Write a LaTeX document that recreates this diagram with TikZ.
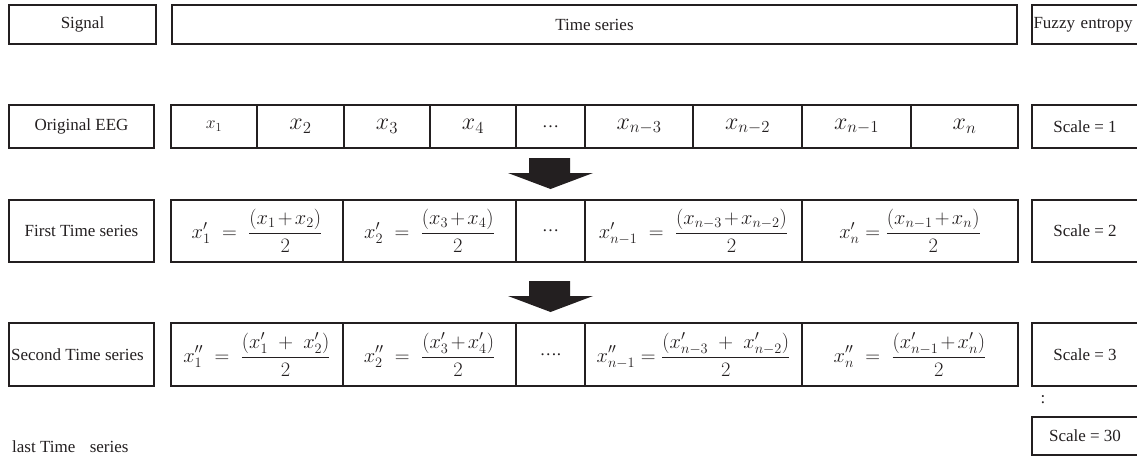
\documentclass[tikz,border=0pt]{standalone}
\usepackage{fix-cm}
\usepackage{fontspec}
\setmainfont{Liberation Serif}
\definecolor{ink}{HTML}{231F20}
\tikzset{
  box/.style={draw=ink, line width=1.6pt, inner sep=0pt, outer sep=0pt,
    text=ink, font=\fontsize{17}{19}\selectfont},
  bigm/.style={font=\fontsize{24}{26}\selectfont},
  frm/.style={font=\fontsize{20.5}{22}\selectfont},
  plain/.style={inner sep=0pt, text=ink, font=\fontsize{17}{19}\selectfont},
  blockarrow/.style={fill=ink, draw=none},
}
\newcommand{\tightplus}{\mkern2mu{+}\mkern2mu}
\begin{document}
\begin{tikzpicture}[x=1pt,y=-1pt]
\useasboundingbox (0,0) rectangle (1137,466);
% header
\node[box, minimum width=147, minimum height=39] (sig) at (82.5,24.5) {Signal};
\node[box, minimum width=845, minimum height=39] (ts) at (594.5,24.5) {Time series};
\node[box, minimum width=106, minimum height=39, anchor=west, text width=104, align=left] (fe) at (1032,24.5) {\hspace*{0.5pt}Fuzzy entropy};
% row 1
\node[box, minimum width=145, minimum height=43] (l1) at (81.5,126.5) {Original EEG};
\node[box, minimum width=86, minimum height=43] (a1) at (214,126.5) {\fontsize{17.5}{18}\selectfont$x_1$};
\node[box, bigm, minimum width=87, minimum height=43] (a2) at (300.5,126.5) {$x_2$};
\node[box, bigm, minimum width=86, minimum height=43] (a3) at (387,126.5) {$x_3$};
\node[box, bigm, minimum width=86, minimum height=43] (a4) at (473,126.5) {$x_4$};
\node[box, minimum width=69, minimum height=43] (a5) at (550.5,126.5) {…};
\node[box, bigm, minimum width=108, minimum height=43] (a6) at (639,126.5) {$x_{n-3}$};
\node[box, bigm, minimum width=109, minimum height=43] (a7) at (747.5,126.5) {$x_{n-2}$};
\node[box, bigm, minimum width=109, minimum height=43] (a8) at (856.5,126.5) {$x_{n-1}$};
\node[box, bigm, minimum width=107, minimum height=43] (a9) at (964.5,126.5) {$x_{n}$};
\node[box, minimum width=106, minimum height=43, anchor=west] (s1) at (1032,126.5) {Scale = 1};
% arrow 1
\fill[blockarrow] (529,158) -- (570,158) -- (570,173) -- (593,173) -- (550.5,189)
  -- (508,173) -- (529,173) -- cycle;
% row 2
\node[box, minimum width=145, minimum height=62] (l2) at (81.5,231) {First Time series};
\node[box, frm, minimum width=172, minimum height=62] (b1) at (257,231)
  {$\displaystyle x'_1 \;=\; \frac{(x_1\tightplus x_2)}{2}$};
\node[box, frm, minimum width=173, minimum height=62] (b2) at (429.5,231)
  {$\displaystyle x'_2 \;=\; \frac{(x_3\tightplus x_4)}{2}$};
\node[box, minimum width=69, minimum height=62] (b3) at (550.5,231) {…};
\node[box, frm, minimum width=217, minimum height=62] (b4) at (693.5,231)
  {$\displaystyle x'_{n-1} \;=\; \frac{(x_{n-3}\tightplus x_{n-2})}{2}$};
\node[box, frm, minimum width=216, minimum height=62] (b5) at (910,231)
  {$\displaystyle x'_{n} = \frac{(x_{n-1}\tightplus x_{n})}{2}$};
\node[box, minimum width=106, minimum height=62, anchor=west] (s2) at (1032,231) {Scale = 2};
% arrow 2
\fill[blockarrow] (529,281) -- (570,281) -- (570,296) -- (593,296) -- (550.5,312)
  -- (508,296) -- (529,296) -- cycle;
% row 3
\node[box, minimum width=145, minimum height=63] (l3) at (81.5,354.5) {};
\node[plain, anchor=west] (l3t) at (11,354.5) {Second Time series};
\node[box, frm, minimum width=172, minimum height=63] (c1) at (257,354.5)
  {$\displaystyle x''_1 \;=\; \frac{(x'_1 \;+\; x'_2)}{2}$};
\node[box, frm, minimum width=173, minimum height=63] (c2) at (429.5,354.5)
  {$\displaystyle x''_2 \;=\; \frac{(x'_3\tightplus x'_4)}{2}$};
\node[box, minimum width=69, minimum height=63] (c3) at (550.5,354.5) {….};
\node[box, frm, minimum width=217, minimum height=63] (c4) at (693.5,354.5)
  {$\displaystyle x''_{n-1} = \frac{(x'_{n-3} \;+\; x'_{n-2})}{2}$};
\node[box, frm, minimum width=216, minimum height=63] (c5) at (910,354.5)
  {$\displaystyle x''_{n} \;=\; \frac{(x'_{n-1}\tightplus x'_{n})}{2}$};
\node[box, minimum width=106, minimum height=63, anchor=west] (s3) at (1032,354.5) {Scale = 3};
% last rows
\node[plain] (dots) at (1043,400) {:};
\node[box, minimum width=106, minimum height=38, anchor=west] (s30) at (1032,436) {Scale = 30};
\node[plain, anchor=west] (last) at (12,447) {last Time\hspace{0.6em} series};
\end{tikzpicture}
\end{document}
